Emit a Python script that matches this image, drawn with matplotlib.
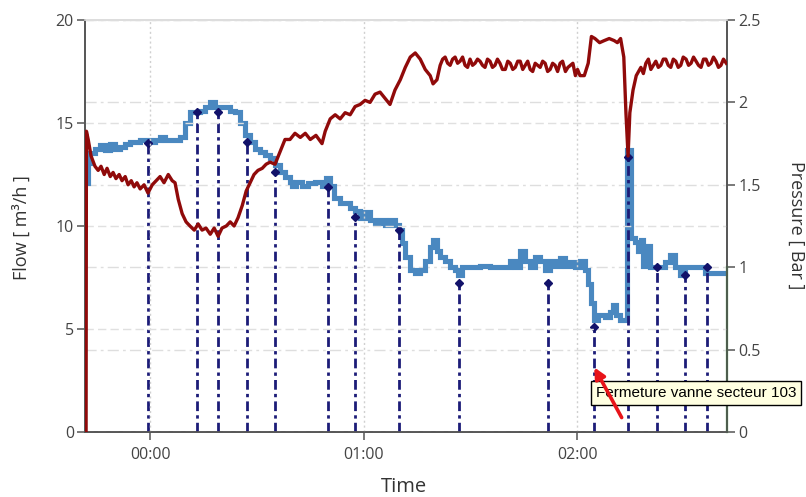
import matplotlib
matplotlib.use("Agg")
import matplotlib.pyplot as plt
from matplotlib.patches import FancyArrowPatch

plt.rcParams['font.family'] = ['Open Sans', 'DejaVu Sans']

# ---------------- data (time in minutes from 00:00) ----------------
flow_t = [-18.0, -17.9, -17.4, -16.6, -15.5, -14.6, -13.8, -12.9, -12.1, -11.2, -10.4, -9.6,
          -8.7, -7.9, -7.0, -6.2, -5.3, -4.5, -3.7, -2.8, -1.7, -0.6, 0.6, 1.7, 2.8, 3.9,
          5.1, 6.2, 7.0, 7.9, 9.0, 10.1, 11.2, 12.4, 13.5, 14.6, 15.7, 16.9, 18.0, 19.1,
          20.2, 21.4, 22.5, 23.6, 24.7, 25.9, 27.0, 28.1, 29.2, 30.3, 31.5, 32.6, 33.7,
          35.1, 36.5, 37.9, 39.3, 40.7, 42.2, 43.6, 45.0, 46.6, 48.3, 49.2, 50.6, 52.0,
          53.4, 54.8, 56.2, 57.6, 59.0, 60.4, 61.8, 63.2, 64.6, 66.0, 67.4, 68.8, 70.3,
          71.7, 73.1, 74.5, 75.9, 77.3, 78.7, 79.5, 80.6,
          81.5, 82.2, 82.9, 83.6, 84.3, 85.0, 85.7, 86.4, 87.1, 87.8, 88.5, 89.2, 89.9,
          90.6, 91.3, 92.0, 92.7, 93.4, 94.1, 94.8, 95.5, 96.2, 96.9, 97.6, 98.3, 99.0,
          99.8, 100.5, 101.2, 101.9, 102.6, 103.3, 104.0, 104.7, 105.4, 106.1, 106.8,
          107.5, 108.2, 108.9, 109.6, 110.3, 111.0, 111.7, 112.4, 113.1, 113.8, 114.5,
          115.2, 115.9, 116.7, 117.4, 118.1, 118.8, 119.5, 120.1, 120.8,
          122.0, 123.1, 124.0, 125.0, 126.3, 127.6, 129.0, 130.4, 131.3, 132.2, 133.1,
          133.7, 134.3, 134.8, 135.7, 136.6,
          137.9, 138.6, 139.3, 140.0, 140.7, 141.4, 142.1, 142.8, 143.5, 144.2, 144.9,
          145.6, 146.3, 147.0, 147.7, 148.4, 149.1, 149.8, 150.6, 151.3, 152.0, 152.7,
          153.4, 154.1, 154.8, 155.5, 156.2, 156.9, 157.6, 158.3, 159.0, 159.7, 160.4,
          161.1, 161.9]
flow_v = [0.0, 14.6, 14.2, 13.4, 12.9, 12.7, 12.9, 12.5, 12.8, 12.4, 12.6, 12.3,
          12.5, 12.2, 12.4, 12.0, 12.2, 11.9, 12.1, 11.8, 12.0, 11.6, 12.0, 12.2, 12.4, 12.1,
          12.5, 12.2, 12.1, 11.3, 10.6, 10.2, 10.0, 9.8, 10.1, 9.8, 9.9, 9.6, 9.9, 9.5,
          9.9, 10.0, 10.2, 10.0, 10.4, 11.0, 11.7, 12.1, 12.5, 12.7, 12.8, 13.0, 13.1,
          13.0, 13.6, 14.2, 14.2, 14.5, 14.3, 14.5, 14.2, 14.4, 14.0, 14.6, 15.2, 15.4,
          15.2, 15.5, 15.4, 15.8, 15.9, 16.1, 16.0, 16.4, 16.5, 16.2, 15.9, 16.6, 17.1,
          17.7, 18.2, 18.4, 18.1, 17.6, 17.3, 16.9, 17.1,
          17.8, 18.1, 18.2, 17.9, 17.8, 18.1, 18.2, 17.9, 18.0, 18.2, 17.8, 17.7, 18.1,
          17.8, 17.9, 18.1, 18.0, 17.8, 17.7, 18.1, 18.0, 17.7, 17.8, 18.1, 17.9, 17.6,
          17.6, 18.0, 17.9, 17.6, 17.7, 18.0, 18.0, 17.6, 17.8, 18.0, 17.6,
          17.5, 17.9, 17.8, 17.7, 18.0, 17.9, 17.5, 17.6, 17.9, 17.8, 17.5,
          17.9, 18.0, 17.5, 17.7, 17.8, 17.9, 17.3, 17.6, 17.3,
          17.3, 17.9, 19.2, 19.1, 18.9, 19.0, 19.1, 19.0, 18.9, 19.1, 18.2,
          15.5, 13.4, 15.5, 16.6, 17.3,
          17.7, 17.4, 17.9, 18.1, 17.6, 17.8, 18.0, 17.7, 17.8, 18.1, 18.1,
          17.8, 17.7, 18.1, 18.0, 17.7, 17.8, 18.2, 18.1, 17.8, 17.9, 18.2,
          18.0, 17.8, 17.7, 18.1, 18.1, 17.8, 17.9, 18.2, 18.0, 17.7, 17.8,
          18.1, 17.9]

pres_t = [-18.3, -17.4, -16.9, -15.5, -14.1, -12.6, -11.2, -9.8, -8.4, -7.0, -5.6, -2.8,
          0.0, 1.4, 2.8, 4.2, 7.0, 8.4, 9.8, 11.2, 14.0, 15.5, 16.9, 18.3, 21.1, 22.5,
          23.9, 25.3, 26.7, 28.1, 29.5, 30.9, 32.3, 33.7, 35.1, 36.5, 37.9, 39.3, 39.9,
          41.0, 42.7, 44.4, 46.4, 48.3, 49.5, 50.6, 51.7, 53.4, 55.1, 56.2, 57.6, 59.0,
          60.4, 61.8, 63.2, 64.6, 66.0, 67.4, 68.8, 70.0, 70.8, 71.7, 73.1, 74.5, 75.9,
          77.3, 78.7, 79.5, 80.6, 81.5, 82.9, 84.3, 85.7, 86.6, 87.7, 92.7, 95.5, 101.2,
          102.6, 104.0, 105.4, 106.8, 108.2, 109.6, 111.0, 112.4, 113.8, 115.2, 116.6,
          118.0, 119.4, 120.8, 122.2, 123.1, 123.9, 124.8, 125.9, 127.9, 129.3, 130.1,
          131.0, 132.1, 133.5, 134.0, 134.6, 135.2, 136.3, 137.1, 138.0, 138.5, 139.4,
          140.5, 143.3, 144.7, 146.1, 147.5, 148.9, 150.3, 153.1, 155.9, 162.1]
pres_v = [1.51, 1.63, 1.69, 1.72, 1.74, 1.71, 1.75, 1.72, 1.73, 1.75, 1.76, 1.77,
          1.76, 1.77, 1.79, 1.77, 1.77, 1.79, 1.875, 1.94, 1.95, 1.97, 2.00, 1.97, 1.97, 1.95,
          1.94, 1.875, 1.80, 1.76, 1.72, 1.70, 1.68, 1.66, 1.62, 1.58, 1.55, 1.52, 1.49,
          1.52, 1.49, 1.51, 1.52, 1.49, 1.54, 1.49, 1.42, 1.39, 1.39, 1.36, 1.34, 1.30,
          1.335, 1.285, 1.27, 1.285, 1.256, 1.285, 1.256, 1.226, 1.147, 1.06, 0.98, 0.965, 0.98,
          1.04, 1.12, 1.165, 1.10, 1.06, 1.04, 1.00, 0.98, 0.95, 1.00, 1.01, 1.00, 1.04,
          1.00, 1.10, 1.04, 1.00, 1.06, 1.04, 0.98, 1.04, 1.01, 1.055, 1.01,
          1.03, 1.00, 1.04, 0.98, 0.90, 0.78, 0.68, 0.71, 0.70, 0.73, 0.77,
          0.71, 0.68, 0.68, 1.71, 1.71, 1.18, 1.15, 1.10, 1.165, 1.01, 1.13,
          1.00, 1.00, 1.03, 1.075, 1.00, 0.95, 1.00, 1.00, 0.965, 0.965]

# second pressure trace visible only at the right edge
pres2_t = [162.1, 162.1]
pres2_v = [1.0, 0.0]

# event markers (time in minutes, pressure in bar)
event_t = [-0.6, 13.2, 19.1, 27.3, 35.1, 50.0, 57.6, 70.0, 86.8, 111.8, 124.8, 134.3,
           142.5, 150.3, 156.5]
event_v = [1.754, 1.94, 1.94, 1.76, 1.578, 1.486, 1.305, 1.226, 0.904, 0.904, 0.637,
           1.669, 1.001, 0.953, 1.001]

time_ticks = [0, 60, 120]
time_labels = ["00:00", "01:00", "02:00"]
flow_ticks = [0, 5, 10, 15, 20]
pres_ticks = [0, 0.5, 1, 1.5, 2, 2.5]
pres_labels = ["0", "0.5", "1", "1.5", "2", "2.5"]
tooltip_text = "Fermeture vanne secteur 103"

# ---------------- figure ----------------
W, H = 806, 497
fig = plt.figure(figsize=(W / 100, H / 100), dpi=100)
fig.patch.set_facecolor('white')
ax = fig.add_axes([85 / W, 65 / H, 642 / W, 412 / H])
ax2 = ax.twinx()

tick_col = '#444444'
spine_col = '#555555'

# pressure axis (drawn below)
ax2.set_ylim(0, 2.5)
ax2.set_yticks(pres_ticks)
ax2.set_yticklabels(pres_labels)
ax2.grid(True, axis='y', color='#dedede', lw=1.0, ls=(0, (8, 3, 2, 3)))
ax2.plot(pres_t, pres_v, color='#4a88c0', lw=3.7, drawstyle='steps-post',
         solid_joinstyle='miter', zorder=2)
ax2.vlines(event_t, 0, event_v, colors='#1c1c78', lw=2.0,
           linestyles=[(0, (3.5, 1.5, 1.2, 1.5))], zorder=3)
ax2.plot(event_t, event_v, ls='none', marker='D', ms=4.5, color='#12126a', zorder=4)
ax2.plot(pres2_t, pres2_v, color='#2f8f2f', lw=1.6, zorder=5, clip_on=False)

# flow axis (drawn on top)
ax.set_zorder(ax2.get_zorder() + 1)
ax.patch.set_visible(False)
ax.set_xlim(-18.3, 162.1)
ax.set_ylim(0, 20)
ax.set_yticks(flow_ticks)
ax.set_xticks(time_ticks)
ax.set_xticklabels(time_labels)
ax.grid(True, axis='y', color='#e0e0e0', lw=1.0, ls=(0, (6, 3)))
ax.grid(True, axis='x', color='#d0d0d0', lw=1.0, ls=(0, (1.5, 2)))
ax.plot(flow_t, flow_v, color='#900a0a', lw=2.4, zorder=3)

for a in (ax, ax2):
    for s in a.spines.values():
        s.set_color(spine_col)
        s.set_linewidth(1.2)
    a.spines['top'].set_color('#dddddd')
    a.tick_params(colors=spine_col, labelcolor=tick_col, labelsize=11.5,
                  length=6, width=1.1)
ax.tick_params(axis='x', pad=5)
ax.tick_params(axis='y', pad=2)
ax2.tick_params(axis='y', pad=2)

# axis titles
fig.text(22 / W, 1 - 228 / H, "Flow [ m³/h ]", rotation=90, ha='center', va='center',
         fontsize=13, color='#333333')
fig.text(796 / W, 1 - 225 / H, "Pressure [ Bar ]", rotation=270, ha='center', va='center',
         fontsize=13, color='#333333')
fig.text(404 / W, 1 - 487 / H, "Time", ha='center', va='center', fontsize=14.5,
         color='#333333')

# tooltip (kept fully inside the figure)
fig.text(596 / W, 1 - 393 / H, tooltip_text, ha='left', va='center', fontsize=11,
         color='black', family=['Liberation Sans', 'DejaVu Sans'],
         bbox=dict(boxstyle='square,pad=0.3', fc='#ffffe1', ec='black', lw=1.0),
         zorder=10)

arrow = FancyArrowPatch((623, H - 420), (593, H - 365), transform=None,
                        arrowstyle='-|>', mutation_scale=16, lw=2.6,
                        color='#e8141a', zorder=11)
fig.add_artist(arrow)

fig.savefig('out.png', dpi=100)
